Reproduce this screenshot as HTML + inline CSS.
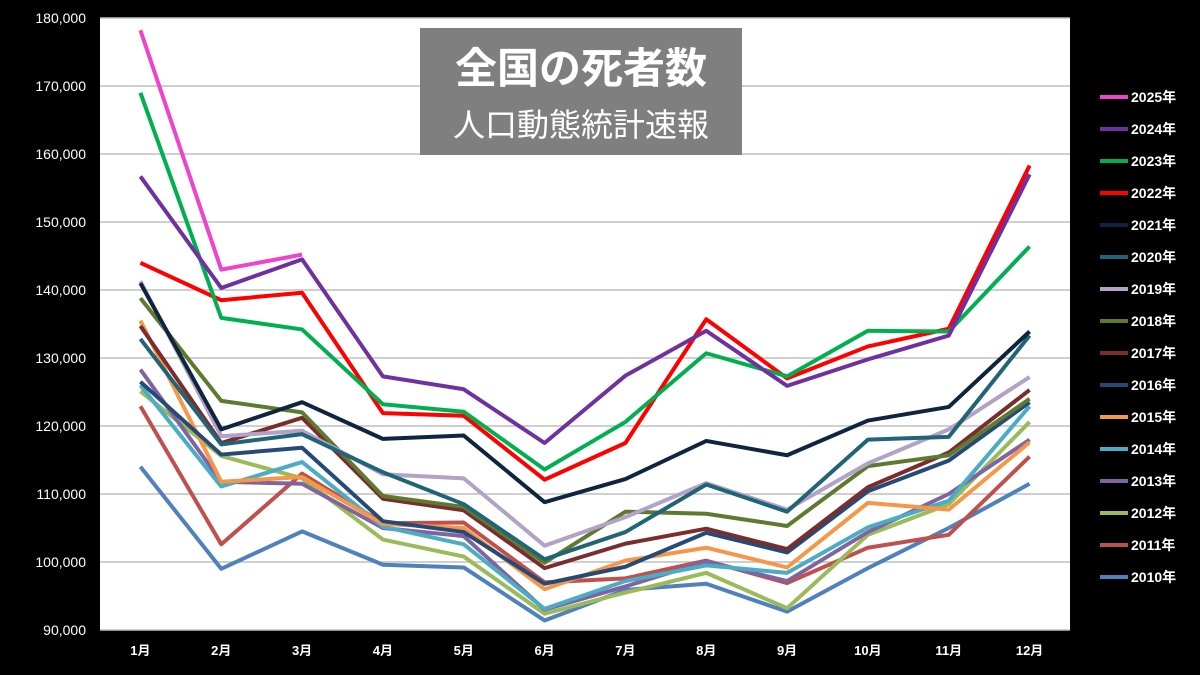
<!DOCTYPE html>
<html><head><meta charset="utf-8"><style>
html,body{margin:0;padding:0;background:#000;width:1200px;height:675px;overflow:hidden}
svg text{font-family:"Liberation Sans","Noto Sans CJK JP",sans-serif}
</style></head><body>
<svg id="chart" width="1200" height="675" xmlns="http://www.w3.org/2000/svg">
<rect x="0" y="0" width="1200" height="675" fill="#000"/>
<rect x="100" y="18" width="970" height="612" fill="#fff"/>
<g id="grid"></g><g id="yticks"></g><g id="xticks"></g><g id="lines"></g>
<g>
<rect x="420" y="28" width="322" height="127" fill="#7f7f7f"/>
<text x="581" y="83" text-anchor="middle" font-size="42" font-weight="bold" fill="#fff">全国の死者数</text>
<text x="581" y="136" text-anchor="middle" font-size="32" fill="#fff">人口動態統計速報</text>
</g>
<g id="legend"></g>
</svg>
<script>
const months=["1月","2月","3月","4月","5月","6月","7月","8月","9月","10月","11月","12月"];
const yTicks=[90000,100000,110000,120000,130000,140000,150000,160000,170000,180000];
const years=["2025年","2024年","2023年","2022年","2021年","2020年","2019年","2018年","2017年","2016年","2015年","2014年","2013年","2012年","2011年","2010年"];
const colors=["#ee44cc","#7030a0","#00b050","#ff0000","#0f243e","#1f6477","#b3a2c7","#5e7a2e","#7b2c2c","#254a77","#f79646","#4bacc6","#8064a2","#9bbb59","#c0504d","#4f81bd"];
const s2025=[178.2,143.0,145.2];
const s2024=[156.7,140.3,144.5,127.3,125.4,117.5,127.4,134.0,125.9,129.8,133.3,157.0];
const s2023=[169.0,135.9,134.2,123.2,122.1,113.6,120.6,130.7,127.3,134.0,133.9,146.4];
const s2022=[144.0,138.5,139.6,121.9,121.5,112.1,117.5,135.7,127.0,131.7,134.3,158.3];
const s2021=[141.0,119.5,123.5,118.1,118.6,108.8,112.2,117.8,115.7,120.8,122.8,133.9];
const s2020=[132.8,117.3,118.8,113.2,108.5,100.4,104.4,111.4,107.4,118.0,118.4,133.3];
const s2019=[141.3,118.5,119.3,112.9,112.3,102.4,106.6,111.6,107.7,114.5,119.5,127.2];
const s2018=[138.8,123.7,122.0,109.7,108.1,99.9,107.4,107.1,105.3,114.1,115.7,124.0];
const s2017=[134.7,117.5,121.2,109.3,107.6,99.1,102.7,104.9,101.9,111.0,116.1,125.3];
const s2016=[126.5,115.8,116.8,106.0,104.4,96.8,99.3,104.3,101.4,110.4,114.9,123.5];
const s2015=[135.5,111.8,112.5,105.6,105.0,96.0,100.2,102.1,99.2,108.7,107.7,117.6];
const s2014=[126.0,111.1,114.7,105.2,102.6,93.1,97.2,99.5,98.4,105.1,109.0,122.9];
const s2013=[128.3,111.8,111.5,105.0,103.8,93.0,96.4,100.1,97.2,104.4,110.0,118.0];
const s2012=[125.1,115.6,112.3,103.3,100.8,92.4,95.5,98.4,93.2,104.0,108.5,120.6];
const s2011=[122.9,102.6,113.0,105.7,105.8,97.0,97.6,100.2,96.9,102.1,104.0,115.5];
const s2010=[114.0,99.0,104.5,99.6,99.2,91.4,95.9,96.8,92.7,99.1,105.0,111.5];
const series=[s2025,s2024,s2023,s2022,s2021,s2020,s2019,s2018,s2017,s2016,s2015,s2014,s2013,s2012,s2011,s2010];
const NS="http://www.w3.org/2000/svg";
const L=100,R=1070,T=18,B=630,yMin=90000,yMax=180000;
const xs=i=>L+(R-L)/months.length*(i+0.5);
const ys=v=>B-(v-yMin)/(yMax-yMin)*(B-T);
function mk(tag,attrs,parent){const e=document.createElementNS(NS,tag);for(const k in attrs)e.setAttribute(k,attrs[k]);parent.appendChild(e);return e;}
const grid=document.getElementById('grid'),yt=document.getElementById('yticks'),xt=document.getElementById('xticks'),lg=document.getElementById('lines'),leg=document.getElementById('legend');
yTicks.forEach(v=>{
  const g=mk('line',{x1:L,x2:R,y1:ys(v),y2:ys(v),stroke:'#bfbfbf','stroke-width':1.5},grid);
  
  
  const t=mk('text',{x:86,y:ys(v)+5,'text-anchor':'end','font-size':14,fill:'#fff'},yt);
  
  
  t.textContent=v.toLocaleString('en-US');
});
months.forEach((m,i)=>{
  const t=mk('text',{x:xs(i),y:655,'text-anchor':'middle','font-size':13,'font-weight':'bold',fill:'#fff'},xt);
  
  
  t.textContent=m;
});
for(let k=series.length-1;k>=0;k--){
  const pts=series[k].map((v,i)=>xs(i)+','+ys(v*1000)).join(' ');
  const p=mk('polyline',{points:pts,fill:'none',stroke:colors[k],'stroke-width':4,'stroke-linejoin':'round'},lg);
  
  
}
years.forEach((y,k)=>{
  const yy=97+k*32;
  const g=mk('g',{},leg);
  
  
  mk('line',{x1:1100,x2:1128,y1:yy,y2:yy,stroke:colors[k],'stroke-width':4},g);
  const t=mk('text',{x:1131,y:yy+5,'font-size':14,'font-weight':'bold',fill:'#fff'},g);
  t.textContent=y;
});
</script>
</body></html>
